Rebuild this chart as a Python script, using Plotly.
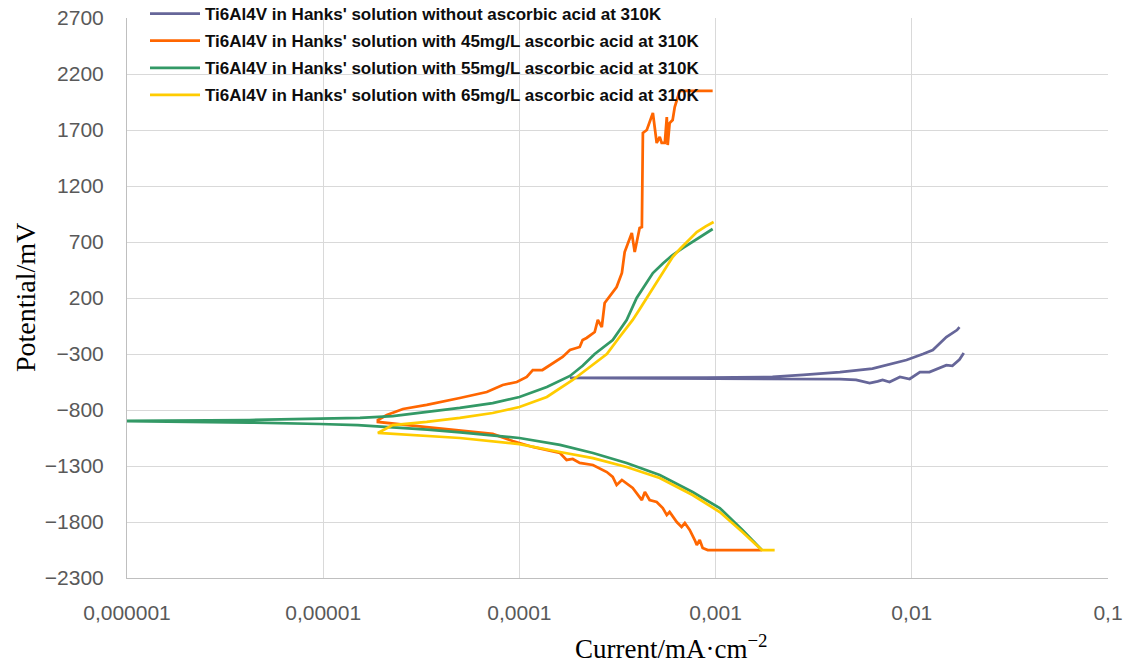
import plotly.graph_objects as go

# ---------------- data (current in mA/cm², potential in mV) ----------------
without_current = [1.75e-2, 1.70e-2, 1.50e-2, 1.39e-2, 1.28e-2, 1.14e-2, 9.4e-3, 6.3e-3, 4.3e-3,
                   2.8e-3, 1.95e-3, 9.0e-4, 4.0e-4, 1.81e-4, 5.0e-4, 1.0e-3, 2.0e-3, 3.0e-3,
                   4.3e-3, 5.2e-3, 6.1e-3, 6.7e-3, 7.1e-3, 7.7e-3, 8.7e-3, 9.75e-3, 1.10e-2,
                   1.23e-2, 1.50e-2, 1.61e-2, 1.75e-2, 1.84e-2]
without_potential = [-60, -86, -148, -202, -264, -300, -354, -430, -461,
                     -487, -505, -512, -514, -514, -517, -520, -521, -522,
                     -525, -532, -559, -545, -532, -550, -505, -523, -461,
                     -461, -400, -405, -350, -291]

aa45_current = [1.72e-3, 9.12e-4, 8.59e-4, 8.30e-4, 8.02e-4, 7.83e-4, 7.38e-4, 6.97e-4, 6.71e-4,
                6.34e-4, 5.83e-4, 5.64e-4, 5.38e-4, 5.01e-4, 4.61e-4, 4.36e-4, 4.21e-4, 3.78e-4,
                3.33e-4, 3.13e-4, 2.99e-4, 2.79e-4, 2.37e-4, 2.03e-4, 1.87e-4, 1.74e-4, 1.61e-4,
                1.17e-4, 9.24e-5, 7.31e-5, 3.37e-5, 1.90e-5,
                1.90e-5, 2.11e-5, 2.55e-5, 3.37e-5, 4.97e-5, 6.82e-5, 8.22e-5, 9.70e-5, 1.09e-4,
                1.17e-4, 1.31e-4, 1.48e-4, 1.66e-4, 1.81e-4, 2.03e-4, 2.10e-4, 2.20e-4, 2.42e-4,
                2.51e-4, 2.63e-4, 2.72e-4, 3.13e-4, 3.33e-4, 3.44e-4, 3.74e-4, 3.87e-4, 4.10e-4,
                4.21e-4, 4.26e-4, 4.46e-4, 4.61e-4, 4.79e-4, 5.01e-4, 5.19e-4, 5.31e-4, 5.51e-4,
                5.64e-4, 5.70e-4, 5.83e-4, 6.04e-4, 6.19e-4, 6.34e-4, 6.56e-4, 9.66e-4]
aa45_potential = [-2050, -2050, -2032, -1961, -2005, -1961, -1871, -1809, -1844,
                  -1800, -1711, -1738, -1675, -1621, -1604, -1532, -1604, -1496,
                  -1425, -1470, -1398, -1354, -1291, -1273, -1237, -1246, -1184,
                  -1130, -1077, -1014, -952, -907,
                  -889, -845, -791, -755, -693, -639, -577, -550, -505,
                  -443, -443, -380, -327, -264, -237, -175, -157, -104,
                  4, -59, 155, 298, 423, 611, 780, 611, 825,
                  834, 1673, 1700, 1771, 1852, 1584, 1638, 1584, 1584,
                  1816, 1566, 1762, 1789, 1905, 1968, 2050, 2050]

aa55_current = [1.72e-3, 1.37e-3, 1.05e-3, 7.63e-4, 5.19e-4, 3.52e-4, 2.37e-4, 1.61e-4, 1.0e-4,
                7.3e-5, 5.0e-5, 3.4e-5, 1.5e-5, 9.6e-6, 4.2e-6, 1.0e-6,
                1.0e-6, 4.2e-6, 9.6e-6, 1.54e-5, 2.26e-5, 3.37e-5, 4.97e-5, 7.31e-5, 1.0e-4,
                1.38e-4, 1.81e-4, 2.1e-4, 2.42e-4, 2.99e-4, 3.25e-4, 3.52e-4, 3.96e-4, 4.4e-4,
                4.79e-4, 5.4e-4, 6.04e-4, 6.8e-4, 7.63e-4, 8.8e-4, 9.66e-4]
aa55_potential = [-2050, -1871, -1675, -1532, -1380, -1273, -1184, -1112, -1050,
                  -1025, -1000, -975, -934, -925, -912, -900,
                  -898, -890, -880, -871, -854, -818, -782, -738, -684,
                  -595, -496, -405, -300, -175, -85, 4, 200, 320,
                  423, 510, 584, 645, 700, 770, 816]

aa65_current = [2.0e-3, 1.72e-3, 1.37e-3, 1.05e-3, 7.63e-4, 5.19e-4, 3.52e-4, 2.37e-4, 1.61e-4,
                1.0e-4, 4.97e-5, 2.77e-5, 1.90e-5,
                2.26e-5, 3.37e-5, 4.97e-5, 7.31e-5, 1.0e-4, 1.38e-4, 1.87e-4, 2.2e-4, 2.57e-4,
                2.79e-4, 3.24e-4, 3.78e-4, 4.1e-4, 4.46e-4, 4.8e-4, 5.19e-4, 5.6e-4, 6.04e-4,
                6.6e-4, 7.13e-4, 8.02e-4, 8.9e-4, 9.77e-4]
aa65_potential = [-2050, -2050, -1889, -1711, -1559, -1407, -1309, -1229, -1175,
                  -1104, -1050, -1023, -1005,
                  -934, -907, -871, -827, -773, -684, -532, -440, -354,
                  -300, -148, 4, 100, 200, 295, 387, 480, 566,
                  640, 700, 789, 840, 879]

series_names = [
    "Ti6Al4V in Hanks' solution without ascorbic acid at 310K",
    "Ti6Al4V in Hanks' solution with 45mg/L ascorbic acid at 310K",
    "Ti6Al4V in Hanks' solution with 55mg/L ascorbic acid at 310K",
    "Ti6Al4V in Hanks' solution with 65mg/L ascorbic acid at 310K",
]
series_colors = ["#666699", "#FF6600", "#339966", "#FFCC00"]

x_tickvals = [1e-6, 1e-5, 1e-4, 1e-3, 1e-2, 1e-1]
x_ticktext = ["0,000001", "0,00001", "0,0001", "0,001", "0,01", "0,1"]
y_tickvals = [-2300, -1800, -1300, -800, -300, 200, 700, 1200, 1700, 2200, 2700]

# ---------------- figure ----------------
fig = go.Figure()
data = [(without_current, without_potential), (aa45_current, aa45_potential),
        (aa55_current, aa55_potential), (aa65_current, aa65_potential)]
for i, ((xs, ys), name, col) in enumerate(zip(data, series_names, series_colors)):
    fig.add_trace(go.Scatter(x=xs, y=ys, mode="lines", name=name, legendgroup=f"g{i}",
                             line=dict(color=col, width=2.75)))

tick_font = dict(family="Liberation Sans", size=21, color="#595959")
fig.update_xaxes(type="log", range=[-6, -1], tickvals=x_tickvals, ticktext=x_ticktext,
                 showgrid=True, gridcolor="#D9D9D9", gridwidth=1, showline=True,
                 linecolor="#BFBFBF", linewidth=1, ticks="", tickfont=tick_font, tickangle=0,
                 ticklabelstandoff=16, zeroline=False)
fig.update_yaxes(range=[-2300, 2700], tickvals=y_tickvals, showgrid=True, gridcolor="#D9D9D9",
                 gridwidth=1, showline=True, linecolor="#BFBFBF", linewidth=1, ticks="",
                 tickfont=tick_font, ticklabelstandoff=18, zeroline=False)

fig.update_layout(
    width=1127, height=663, autosize=False,
    margin=dict(l=127, r=19, t=18, b=85, autoexpand=False),
    plot_bgcolor="white", paper_bgcolor="white",
    legend=dict(xref="container", yref="paper", x=145/1127, y=1 + 22/560, xanchor="left",
                yanchor="top", bgcolor="rgba(0,0,0,0)", tracegroupgap=2, itemwidth=50,
                font=dict(family="Liberation Sans", size=17, color="#0D0D0D", weight="bold")),
    annotations=[
        dict(text="Potential/mV", xref="paper", yref="paper", x=-(127-25)/981, y=0.5,
             textangle=-90, showarrow=False, xanchor="center", yanchor="middle",
             font=dict(family="Liberation Serif", size=28, color="black")),
        dict(text="Current/mA·cm<sup>−2</sup>", xref="paper", yref="paper",
             x=(671-127)/981, y=-(647-578)/560, showarrow=False, xanchor="center",
             yanchor="middle", font=dict(family="Liberation Serif", size=27, color="black")),
    ],
)

fig.write_html("out.html")
